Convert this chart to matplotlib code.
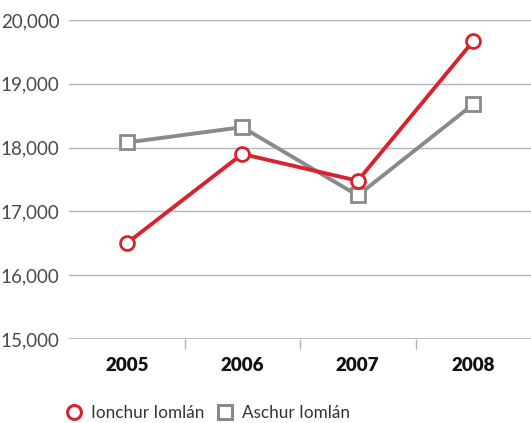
import matplotlib
matplotlib.use("Agg")
import matplotlib.pyplot as plt
from matplotlib.lines import Line2D
from matplotlib.ticker import FuncFormatter

years = ["2005", "2006", "2007", "2008"]
ionchur = [16500, 17900, 17480, 19670]
aschur = [18080, 18320, 17250, 18680]
series_labels = ["Ionchur Iomlán", "Aschur Iomlán"]
yticks = [15000, 16000, 17000, 18000, 19000, 20000]

RED = "#d8232f"
GRAY = "#8a8a8a"
GRID = "#b4b4b4"

plt.rcParams['font.family'] = ['Lato', 'DejaVu Sans']

fig = plt.figure(figsize=(5.31, 4.23), dpi=100)
ax = fig.add_axes([69/531, 84/423, 462/531, 319/423])

x = list(range(len(years)))
ax.plot(x, aschur, color=GRAY, lw=2.8, marker='s', ms=10, mfc='white',
        mec=GRAY, mew=2.0, zorder=3)
ax.plot(x, ionchur, color=RED, lw=2.8, marker='o', ms=10, mfc='white',
        mec=RED, mew=2.0, zorder=4)

ax.set_xlim(-0.5, len(years) - 0.5)
ax.set_ylim(15000, 20000)
ax.set_yticks(yticks)
ax.yaxis.set_major_formatter(FuncFormatter(lambda v, p: f"{int(v):,}"))
ax.grid(axis='y', color=GRID, lw=1.0)
ax.set_axisbelow(True)
for s in ax.spines.values():
    s.set_visible(False)
ax.tick_params(axis='y', length=0, pad=7, labelsize=13.5, labelcolor='#4a4a4a')

ax.set_xticks(x)
ax.set_xticklabels(years, fontsize=13.5, fontweight='heavy', color='#111111')
ax.tick_params(axis='x', length=0, pad=13)
ax.set_xticks([0.5, 1.5, 2.5], minor=True)
ax.tick_params(axis='x', which='minor', length=7, color=GRID, width=1.0)
ax.axhline(15000, color=GRID, lw=1.2, zorder=1)

handles = [
    Line2D([], [], ls='none', marker='o', ms=10, mfc='white', mec=RED, mew=2.2),
    Line2D([], [], ls='none', marker='s', ms=10, mfc='white', mec=GRAY, mew=2.2),
]
fig.legend(handles, series_labels, loc='center left', bbox_to_anchor=(59/531, 1 - 413/423),
           ncol=2, frameon=False, prop={'size': 12.3},
           handlelength=1.0, handletextpad=0.45, borderaxespad=0,
           columnspacing=0.75, labelcolor='#333333')

fig.savefig("out.png", dpi=100)
